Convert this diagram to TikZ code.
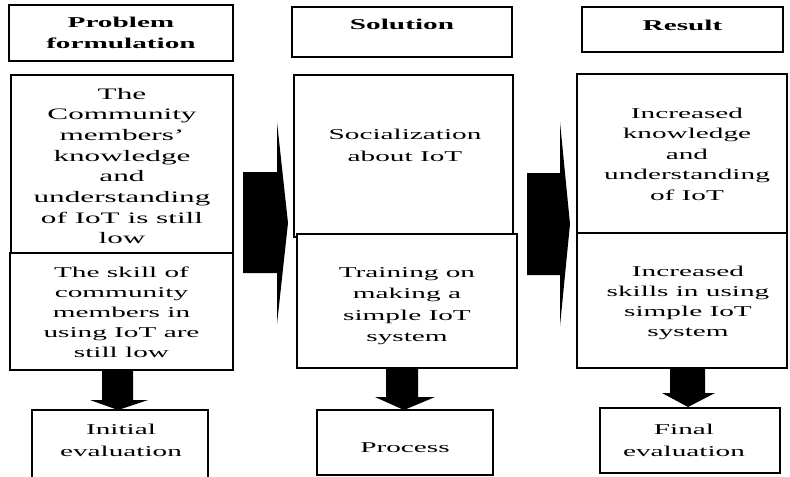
\documentclass[tikz,border=0pt]{standalone}
\usepackage{fontspec}
\setmainfont{Liberation Serif}[FakeStretch=1.95]
\usetikzlibrary{calc}

% a framed panel given by its corners (in px units)
\newcommand\panel[5]{%
  \node[box, anchor=north west,
        minimum width={(#4-#2)*0.75pt}, minimum height={(#5-#3)*0.75pt}]
        (#1) at (#2,#3) {};}

\begin{document}
\begin{tikzpicture}[x=0.75pt, y=-0.75pt,
  box/.style={draw=black, line width=1pt, fill=white, inner sep=0pt, outer sep=0pt},
  txt/.style={align=center, inner sep=0pt, font=\fontsize{11.25}{15}\selectfont},
  loose/.style={font=\fontsize{11.25}{16}\selectfont},
  hdr/.style={align=center, inner sep=0pt, font=\fontsize{11.25}{15.75}\selectfont\bfseries},
  blockarrow/.style={fill=black, draw=none}]
\useasboundingbox (0,0) rectangle (790,476);
\clip (0,0) rectangle (790,476);

% column headers
\panel{hProb}{9}{5}{233}{61}
\panel{hSol}{292}{7}{512}{57}
\panel{hRes}{582}{7}{783}{52}
\node[hdr] (tProb) at (121,33) {Problem\\formulation};
\node[hdr] (tSol) at (402,24.5) {Solution};
\node[hdr] (tRes) at (682.5,25) {Result};

% problem column
\panel{p1}{11}{75}{233}{253}
\panel{p2}{10}{253}{233}{370}
\node[txt, font=\fontsize{12}{15.5}\selectfont] (tp1) at (122,166)
  {The\\Community\\members’\\knowledge\\and\\understanding\\of IoT is still\\low};
\node[txt] (tp2) at (121.5,312.5)
  {The skill of\\community\\members in\\using IoT are\\still low};

% solution column
\panel{s1}{294}{75}{513}{237}
\panel{s2}{297}{234}{517}{368}
\node[txt, font=\fontsize{11.25}{16.5}\selectfont] (ts1) at (405,145) {Socialization\\about IoT};
\node[txt, loose] (ts2) at (407,306) {Training on\\making a\\simple IoT\\system};

% result column
\panel{r1}{577}{74}{787}{233}
\panel{r2}{577}{233}{787}{368}
\node[txt, font=\fontsize{11.25}{15.4}\selectfont] (tr1) at (687,154)
  {Increased\\knowledge\\and\\understanding\\of IoT};
\node[txt] (tr2) at (688,303) {Increased\\skills in using\\simple IoT\\system};

% evaluation boxes
\panel{e1}{32}{410}{208}{482}
\panel{e2}{317}{410}{493}{475}
\panel{e3}{600}{408}{780}{473}
\node[txt, font=\fontsize{11.25}{16.5}\selectfont] (te1) at (121,440) {Initial\\evaluation};
\node[txt] (te2) at (405,448) {Process};
\node[txt, font=\fontsize{11.25}{16.5}\selectfont] (te3) at (684,440) {Final\\evaluation};

% block arrows between the columns
\fill[blockarrow] (243,172) -- (277,172) -- (277,122) -- (288,223)
  -- (277,324) -- (277,273) -- (243,273) -- cycle;
\fill[blockarrow] (527,173) -- (560,173) -- (560,122) -- (570,224)
  -- (560,326) -- (560,275) -- (527,275) -- cycle;

% block arrows down to the evaluation boxes
\fill[blockarrow] (102,370) -- (133,370) -- (133,400) -- (148,400)
  -- (118,410) -- (90,400) -- (102,400) -- cycle;
\fill[blockarrow] (386,368) -- (418,368) -- (418,397) -- (435,397)
  -- (404,410) -- (375,397) -- (386,397) -- cycle;
\fill[blockarrow] (670,368) -- (705,368) -- (705,393) -- (715,393)
  -- (688,407) -- (662,393) -- (670,393) -- cycle;
\end{tikzpicture}
\end{document}
